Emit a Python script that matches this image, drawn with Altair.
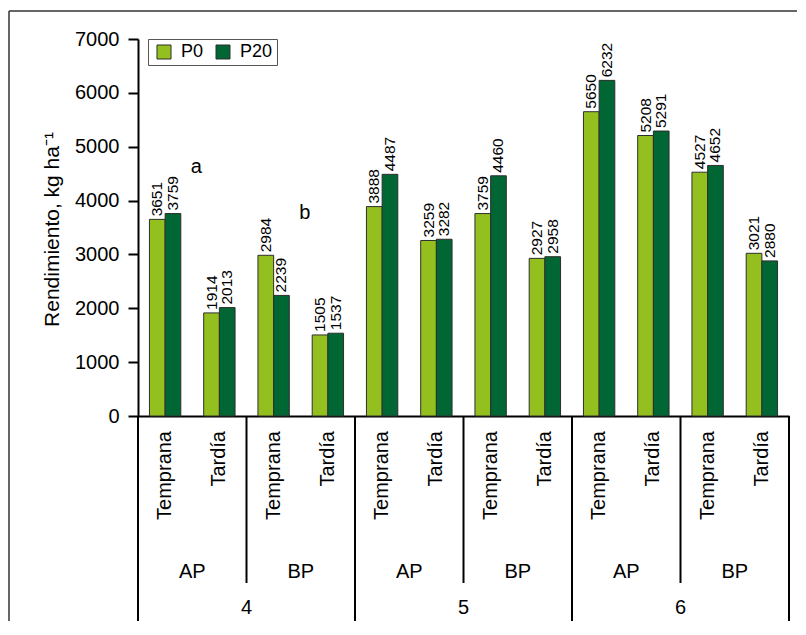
import altair as alt
import pandas as pd

# ---- data -------------------------------------------------------------
years = ["4", "4", "4", "4", "5", "5", "5", "5", "6", "6", "6", "6"]
levels = ["AP", "AP", "BP", "BP", "AP", "AP", "BP", "BP", "AP", "AP", "BP", "BP"]
epocas = ["Temprana", "Tardía"] * 6
p0 = [3651, 1914, 2984, 1505, 3888, 3259, 3759, 2927, 5650, 5208, 4527, 3021]
p20 = [3759, 2013, 2239, 1537, 4487, 3282, 4460, 2958, 6232, 5291, 4652, 2880]
series = ["P0", "P20"]
colors = ["#93c01f", "#006633"]
y_ticks = [0, 1000, 2000, 3000, 4000, 5000, 6000, 7000]
letters = ["a", "b"]
letter_pos = [1, 3]          # pair index where letter sits
letter_vals = [4520, 3660]   # y position (kg/ha) of letters

FONT = "Liberation Sans"

keys = [f"{y}|{l}|{e}" for y, l, e in zip(years, levels, epocas)]

bars_df = pd.DataFrame({
    "key": keys * 2,
    "serie": ["P0"] * 12 + ["P20"] * 12,
    "valor": p0 + p20,
})
pairs_df = pd.DataFrame({"key": keys, "epoca": epocas})
level_df = pd.DataFrame({"key": [keys[i] for i in range(1, 12, 2)],
                         "lvl": [levels[i] for i in range(1, 12, 2)]})
year_df = pd.DataFrame({"key": [keys[i] for i in (2, 6, 10)],
                        "yr": [years[i] for i in (2, 6, 10)]})
inner_df = pd.DataFrame({"key": [keys[i] for i in (2, 6, 10)]})
major_df = pd.DataFrame({"key": [keys[i] for i in (0, 4, 8)]})
end_df = pd.DataFrame({"key": [keys[11]]})
let_df = pd.DataFrame({"key": [keys[i] for i in letter_pos],
                       "valor": letter_vals, "t": letters})
dummy = pd.DataFrame({"k": [0]})

xscale = alt.Scale(domain=keys, paddingInner=0, paddingOuter=0)
H = 377

xenc = alt.X("key:N", scale=xscale, title=None, sort=keys)

bars = alt.Chart(bars_df).mark_bar(stroke="#2e2e2e", strokeWidth=1).encode(
    x=xenc,
    xOffset=alt.XOffset("serie:N", scale=alt.Scale(domain=series, paddingInner=0, paddingOuter=0.73)),
    y=alt.Y("valor:Q", scale=alt.Scale(domain=[0, 7000]),
            axis=alt.Axis(values=y_ticks, format="d", title="Rendimiento, kg ha⁻¹",
                          titleX=-80, titleY=190, titleAngle=270,
                          titleAlign="center", titleBaseline="alphabetic")),
    color=alt.Color("serie:N", scale=alt.Scale(domain=series, range=colors),
                    legend=alt.Legend(orient="none", legendX=10, legendY=0,
                                      direction="horizontal", title=None,
                                      symbolType="square", symbolSize=196,
                                      symbolStrokeColor="#2e2e2e", symbolStrokeWidth=1,
                                      labelFontSize=18, labelFont=FONT, labelColor="black",
                                      labelOffset=8, columnPadding=7,
                                      padding=4, symbolOffset=3,
                                      strokeColor="#555555", fillColor="white")),
)

vlabels = alt.Chart(bars_df).mark_text(angle=270, align="left", baseline="middle",
                                       dx=3, fontSize=15.5, font=FONT, color="black").encode(
    x=xenc,
    xOffset=alt.XOffset("serie:N"),
    y=alt.Y("valor:Q"),
    text=alt.Text("valor:Q", format="d"),
)

ep_text = alt.Chart(pairs_df).mark_text(angle=270, align="right", baseline="middle",
                                        fontSize=20, font=FONT, color="black").encode(
    x=xenc, y=alt.value(H + 15), text="epoca:N")

lvl_text = alt.Chart(level_df).mark_text(align="center", baseline="middle",
                                         fontSize=20, font=FONT, color="black").encode(
    x=alt.X("key:N", scale=xscale, title=None, bandPosition=0),
    y=alt.value(H + 156), text="lvl:N")

yr_text = alt.Chart(year_df).mark_text(align="center", baseline="middle",
                                       fontSize=20, font=FONT, color="black").encode(
    x=alt.X("key:N", scale=xscale, title=None, bandPosition=0),
    y=alt.value(H + 192), text="yr:N")

inner_rules = alt.Chart(inner_df).mark_rule(color="black", strokeWidth=2).encode(
    x=alt.X("key:N", scale=xscale, title=None, bandPosition=0),
    y=alt.value(H), y2=alt.value(H + 167))

major_rules = alt.Chart(major_df).mark_rule(color="black", strokeWidth=2).encode(
    x=alt.X("key:N", scale=xscale, title=None, bandPosition=0),
    y=alt.value(H), y2=alt.value(H + 214))

end_rule = alt.Chart(end_df).mark_rule(color="black", strokeWidth=2).encode(
    x=alt.X("key:N", scale=xscale, title=None, bandPosition=1),
    y=alt.value(H), y2=alt.value(H + 214))

letters_text = alt.Chart(let_df).mark_text(align="center", baseline="alphabetic", dx=4,
                                           fontSize=20, font=FONT, color="black").encode(
    x=alt.X("key:N", scale=xscale, title=None, bandPosition=0),
    y=alt.Y("valor:Q"), text="t:N")

frame_top = alt.Chart(dummy).mark_rule(color="#333333", strokeWidth=1.5).encode(
    x=alt.value(-129), x2=alt.value(700), y=alt.value(-28))
frame_left = alt.Chart(dummy).mark_rule(color="#333333", strokeWidth=1.5).encode(
    x=alt.value(-129), y=alt.value(-28), y2=alt.value(650))

chart = alt.layer(
    frame_top, frame_left, bars, vlabels, ep_text, lvl_text, yr_text,
    inner_rules, major_rules, end_rule, letters_text
).properties(
    width=651, height=H,
    padding={"left": 130, "top": 31, "right": 8, "bottom": 205},
    autosize=alt.AutoSizeParams(type="none"),
    background="white",
).configure_view(stroke=None).configure_axisX(
    labels=False, ticks=False, domainColor="black", domainWidth=2, grid=False, title=None
).configure_axisY(
    domainColor="black", domainWidth=2, tickColor="black", tickWidth=2, tickSize=10,
    labelFontSize=20, labelFont=FONT, labelColor="black", labelPadding=9, grid=False,
    titleFontSize=21, titleFont=FONT, titleColor="black", titleFontWeight="normal"
)

chart.save("out.html", embed_options={"renderer": "svg", "actions": False})
